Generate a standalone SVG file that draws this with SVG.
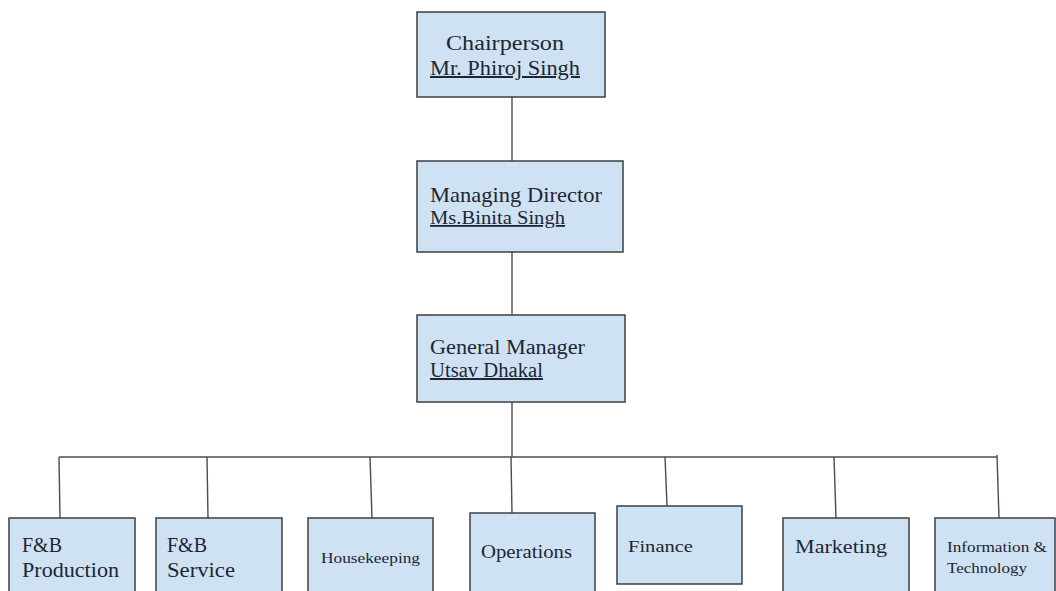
<svg xmlns="http://www.w3.org/2000/svg" width="1056" height="591" viewBox="0 0 1056 591">
  <style>
    .box { fill: #cfe2f3; stroke: #3c3f44; stroke-width: 1.5; }
    .lbl { font-family: "Liberation Serif", "Times New Roman", serif; fill: #1e2633; }
    .name { text-decoration: underline; }
    .wire { stroke: #4a4d52; stroke-width: 1.4; fill: none; }
  </style>
  <rect width="1056" height="591" fill="#ffffff"/>

  <!-- connectors -->
  <g id="connectors">
    <line class="wire" x1="512" y1="97" x2="512" y2="161"/>
    <line class="wire" x1="512" y1="252" x2="512" y2="315"/>
    <line class="wire" x1="512" y1="402" x2="512" y2="457"/>
    <line class="wire" x1="59" y1="457" x2="997" y2="457"/>
    <line class="wire" x1="59" y1="457" x2="60" y2="518"/>
    <line class="wire" x1="207" y1="457" x2="208" y2="518"/>
    <line class="wire" x1="370" y1="457" x2="372" y2="518"/>
    <line class="wire" x1="511" y1="457" x2="512" y2="513"/>
    <line class="wire" x1="665" y1="457" x2="667" y2="506"/>
    <line class="wire" x1="834" y1="457" x2="836" y2="518"/>
    <line class="wire" x1="997" y1="455" x2="999" y2="518"/>
  </g>

  <!-- executive chain -->
  <g id="chairperson">
    <rect class="box" x="417" y="12" width="188" height="85"/>
    <text class="lbl" x="446" y="50" font-size="20" textLength="118" lengthAdjust="spacingAndGlyphs">Chairperson</text>
    <text class="lbl name" x="430" y="75" font-size="20" textLength="150" lengthAdjust="spacingAndGlyphs">Mr. Phiroj Singh</text>
  </g>

  <g id="managing-director">
    <rect class="box" x="417" y="161" width="206" height="91"/>
    <text class="lbl" x="430" y="202" font-size="21" textLength="172" lengthAdjust="spacingAndGlyphs">Managing Director</text>
    <text class="lbl name" x="430" y="224" font-size="18" textLength="135" lengthAdjust="spacingAndGlyphs">Ms.Binita Singh</text>
  </g>

  <g id="general-manager">
    <rect class="box" x="417" y="315" width="208" height="87"/>
    <text class="lbl" x="430" y="354" font-size="20" textLength="155" lengthAdjust="spacingAndGlyphs">General Manager</text>
    <text class="lbl name" x="430" y="377" font-size="20" textLength="113" lengthAdjust="spacingAndGlyphs">Utsav Dhakal</text>
  </g>

  <!-- departments -->
  <g id="fb-production">
    <rect class="box" x="9" y="518" width="126" height="80"/>
    <text class="lbl" x="22" y="552" font-size="20" textLength="40" lengthAdjust="spacingAndGlyphs">F&amp;B</text>
    <text class="lbl" x="22" y="577" font-size="20" textLength="97" lengthAdjust="spacingAndGlyphs">Production</text>
  </g>

  <g id="fb-service">
    <rect class="box" x="156" y="518" width="126" height="80"/>
    <text class="lbl" x="167" y="552" font-size="20" textLength="40" lengthAdjust="spacingAndGlyphs">F&amp;B</text>
    <text class="lbl" x="167" y="577" font-size="20" textLength="68" lengthAdjust="spacingAndGlyphs">Service</text>
  </g>

  <g id="housekeeping">
    <rect class="box" x="308" y="518" width="125" height="80"/>
    <text class="lbl" x="321" y="563" font-size="15" textLength="99" lengthAdjust="spacingAndGlyphs">Housekeeping</text>
  </g>

  <g id="operations">
    <rect class="box" x="470" y="513" width="125" height="85"/>
    <text class="lbl" x="481" y="558" font-size="18" textLength="91" lengthAdjust="spacingAndGlyphs">Operations</text>
  </g>

  <g id="finance">
    <rect class="box" x="617" y="506" width="125" height="78"/>
    <text class="lbl" x="628" y="552" font-size="17" textLength="65" lengthAdjust="spacingAndGlyphs">Finance</text>
  </g>

  <g id="marketing">
    <rect class="box" x="783" y="518" width="126" height="80"/>
    <text class="lbl" x="795" y="553" font-size="19" textLength="92" lengthAdjust="spacingAndGlyphs">Marketing</text>
  </g>

  <g id="information-technology">
    <rect class="box" x="935" y="518" width="120" height="80"/>
    <text class="lbl" x="947" y="552" font-size="14.5" textLength="100" lengthAdjust="spacingAndGlyphs">Information &amp;</text>
    <text class="lbl" x="947" y="573" font-size="14.5" textLength="80" lengthAdjust="spacingAndGlyphs">Technology</text>
  </g>
</svg>
